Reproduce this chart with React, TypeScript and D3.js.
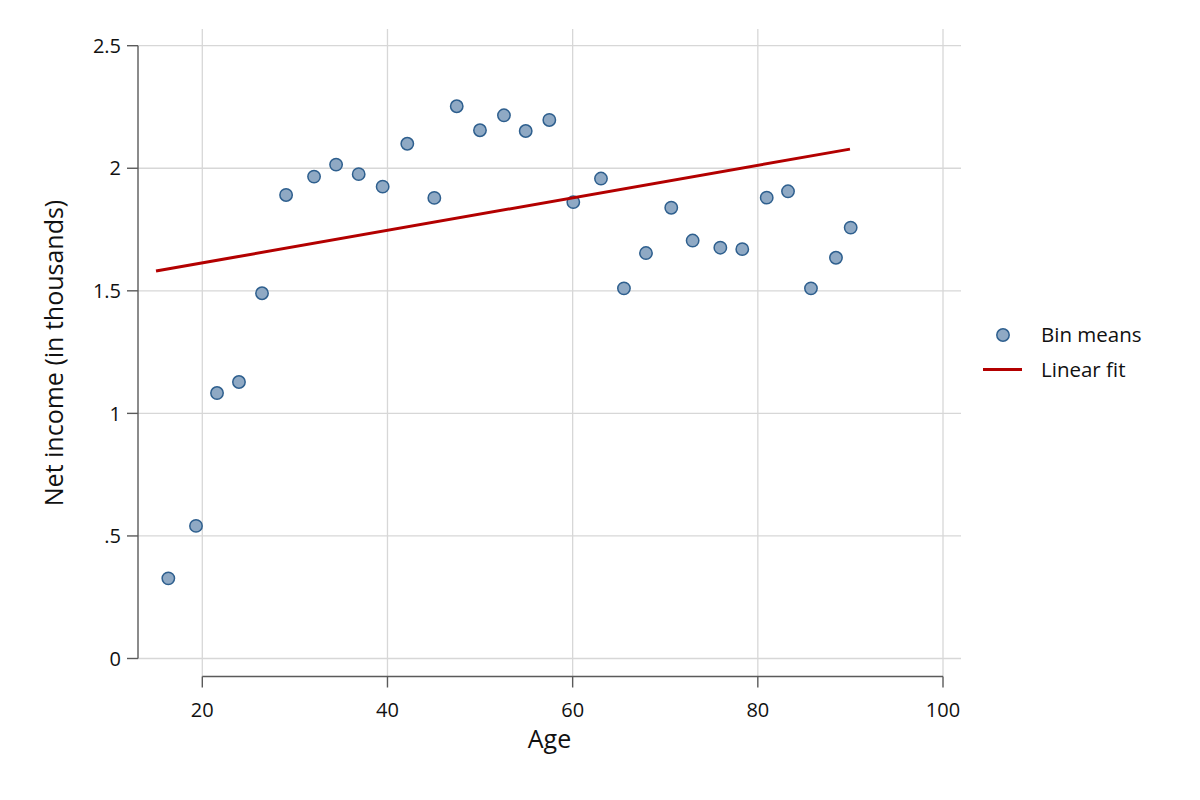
import React from "react";
import * as d3 from "d3";

const ages = [16.33, 19.32, 21.59, 23.96, 26.45, 29.05, 32.07, 34.45, 36.89, 39.48, 42.14, 45.06, 47.48, 49.99, 52.58, 54.93, 57.48, 60.07, 63.06, 65.54, 67.92, 70.65, 72.96, 75.95, 78.32, 80.96, 83.26, 85.74, 88.44, 90.03];
const incomes = [0.327, 0.541, 1.083, 1.128, 1.49, 1.891, 1.966, 2.015, 1.976, 1.925, 2.1, 1.879, 2.253, 2.155, 2.216, 2.152, 2.197, 1.862, 1.958, 1.51, 1.654, 1.839, 1.705, 1.676, 1.67, 1.88, 1.906, 1.51, 1.635, 1.758];
const fitX = [15.0, 89.95];
const fitY = [1.581, 2.078];
const xTicks = [20, 40, 60, 80, 100];
const yTicks = [0, 0.5, 1, 1.5, 2, 2.5];
const yTickLabels = ["0", ".5", "1", "1.5", "2", "2.5"];
const legendLabels = ["Bin means", "Linear fit"];

const FONT = "'Open Sans', 'Noto Sans', sans-serif";

export default function App() {
  const x = d3.scaleLinear().domain([20, 100]).range([202.3, 943]);
  const y = d3.scaleLinear().domain([0, 2.5]).range([658.5, 45.7]);
  const plotLeft = 138;
  const plotRight = 961;
  const plotTop = 29;
  const xAxisY = 676.5;
  const gridColor = "#d7d7d7";
  const axisColor = "#5a5a5a";
  const line = d3.line<number>().x((_, i) => x(fitX[i])).y((d) => y(d));

  return (
    <svg width={1200} height={800} style={{ position: "absolute", left: 0, top: 0, background: "#fff" }} fontFamily={FONT}>
      <rect width={1200} height={800} fill="#fff" />
      {/* grid */}
      {yTicks.map((t) => (
        <line key={"gy" + t} x1={plotLeft} x2={plotRight} y1={y(t)} y2={y(t)} stroke={gridColor} strokeWidth={1.3} />
      ))}
      {xTicks.map((t) => (
        <line key={"gx" + t} x1={x(t)} x2={x(t)} y1={plotTop} y2={xAxisY} stroke={gridColor} strokeWidth={1.3} />
      ))}
      {/* y axis */}
      <line x1={plotLeft} x2={plotLeft} y1={y(2.5)} y2={y(0)} stroke={axisColor} strokeWidth={1.4} />
      {yTicks.map((t, i) => (
        <g key={"yt" + t}>
          <line x1={plotLeft - 11} x2={plotLeft} y1={y(t)} y2={y(t)} stroke={axisColor} strokeWidth={1.4} />
          <text x={plotLeft - 17} y={y(t)} dy="0.36em" textAnchor="end" fontSize={20} fill="#111">
            {yTickLabels[i]}
          </text>
        </g>
      ))}
      {/* x axis */}
      <line x1={x(20)} x2={x(100)} y1={xAxisY} y2={xAxisY} stroke={axisColor} strokeWidth={1.4} />
      {xTicks.map((t) => (
        <g key={"xt" + t}>
          <line x1={x(t)} x2={x(t)} y1={xAxisY} y2={xAxisY + 11} stroke={axisColor} strokeWidth={1.4} />
          <text x={x(t)} y={717.3} textAnchor="middle" fontSize={20} fill="#111">
            {t}
          </text>
        </g>
      ))}
      {/* titles */}
      <text x={549.5} y={748} textAnchor="middle" fontSize={25} fill="#111">
        Age
      </text>
      <text transform="translate(63,353) rotate(-90)" textAnchor="middle" fontSize={25} fill="#111">
        Net income (in thousands)
      </text>
      {/* points */}
      {ages.map((a, i) => (
        <circle key={"p" + i} cx={x(a)} cy={y(incomes[i])} r={6.2} fill="#8fa9c4" stroke="#2e5f8e" strokeWidth={1.5} />
      ))}
      {/* fit line */}
      <path d={line(fitY) || ""} fill="none" stroke="#b30000" strokeWidth={3} />
      {/* legend */}
      <circle cx={1003} cy={335} r={6.2} fill="#8fa9c4" stroke="#2e5f8e" strokeWidth={1.5} />
      <text x={1041} y={335} dy="0.36em" fontSize={20.5} fill="#111">
        {legendLabels[0]}
      </text>
      <line x1={983} x2={1022} y1={369.5} y2={369.5} stroke="#b30000" strokeWidth={3} />
      <text x={1041} y={369.5} dy="0.36em" fontSize={20.5} fill="#111">
        {legendLabels[1]}
      </text>
    </svg>
  );
}
